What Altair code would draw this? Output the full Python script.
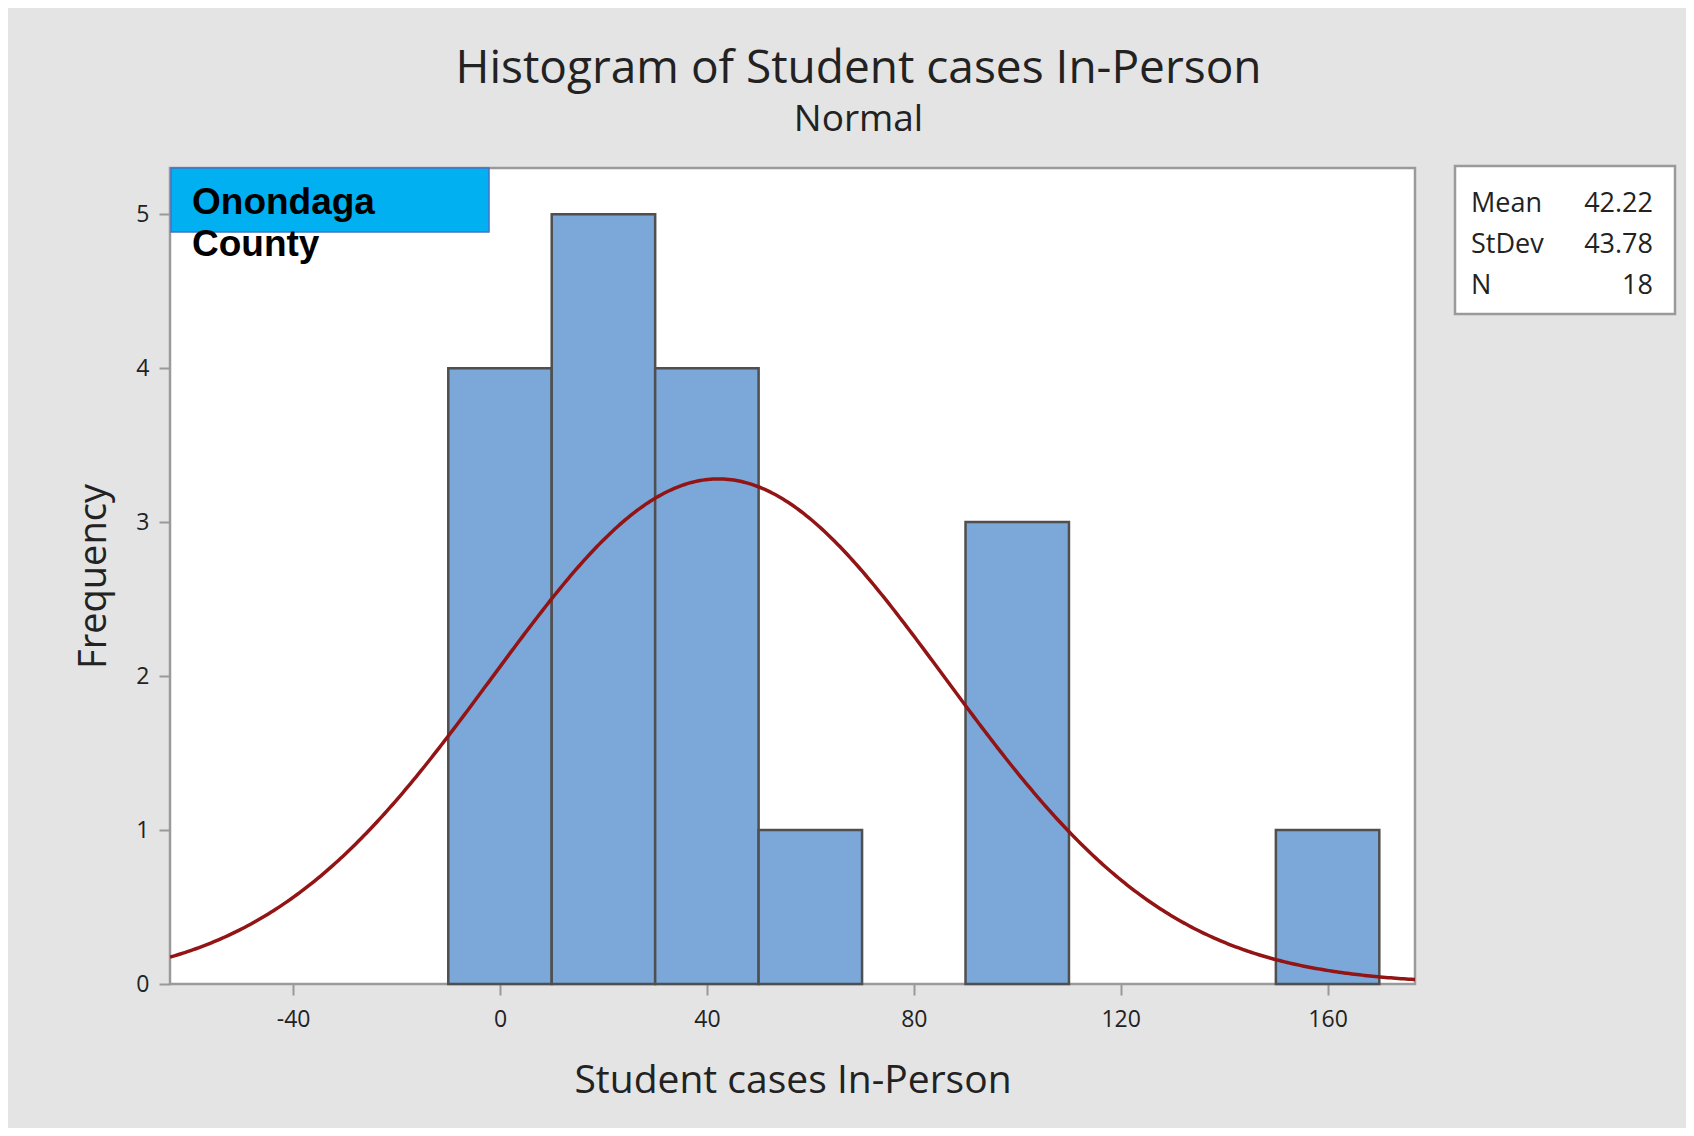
import altair as alt
import pandas as pd

# ---- data ----
bin_start = [-10, 10, 30, 50, 70, 90, 110, 130, 150]
bin_end = [10, 30, 50, 70, 90, 110, 130, 150, 170]
counts = [4, 5, 4, 1, 0, 3, 0, 0, 1]

stat_labels = ["Mean", "StDev", "N"]
stat_values = ["42.22", "43.78", "18"]
mean_val = 42.22
sd_val = 43.78
n_obs = 18
bin_width = 20

x_ticks = [-40, 0, 40, 80, 120, 160]
y_ticks = [0, 1, 2, 3, 4, 5]
x_domain = [-63.8, 176.9]
y_domain = [0, 5.3]

label_lines = ["Onondaga", "County"]

FONT = "Open Sans"
W, H = 1245, 816

bars_df = pd.DataFrame({"start": bin_start, "end": bin_end, "count": counts})

xscale = alt.Scale(domain=x_domain, nice=False, zero=False)
yscale = alt.Scale(domain=y_domain, nice=False, zero=False)

bars = alt.Chart(bars_df).transform_filter("datum.count > 0").mark_rect(
    fill="#7BA7D9", stroke="#4F4F4F", strokeWidth=2.5
).encode(
    x=alt.X("start:Q", scale=xscale,
            axis=alt.Axis(values=x_ticks, title="Student cases In-Person", grid=False,
                          domain=False, tickSize=11, tickWidth=2, tickColor="#999999",
                          labelFontSize=23, labelFont=FONT, labelColor="#222222",
                          labelPadding=13,
                          labelExpr="datum.value < 0 ? '-' + abs(datum.value) : '' + datum.value",
                          titleFont=FONT, titleFontSize=39,
                          titleFontWeight="normal", titleColor="#222222", titlePadding=30)),
    x2="end:Q",
    y=alt.Y("count:Q", scale=yscale,
            axis=alt.Axis(values=y_ticks, format="d", title="Frequency", grid=False,
                          domain=False, tickSize=11, tickWidth=2, tickColor="#999999",
                          labelFontSize=23, labelFont=FONT, labelColor="#222222",
                          labelPadding=10, titleFont=FONT, titleFontSize=38,
                          titleFontWeight="normal", titleColor="#222222", titlePadding=22)),
    y2=alt.datum(0),
)

curve_expr = f"{n_obs}*{bin_width}*densityNormal(datum.x, {mean_val}, {sd_val})"
curve = alt.Chart(alt.sequence(x_domain[0], x_domain[1] + 0.5, 0.5, as_="x")).transform_calculate(
    count=curve_expr
).mark_line(color="#921414", strokeWidth=3.5, clip=True).encode(
    x=alt.X("x:Q", scale=xscale),
    y=alt.Y("count:Q", scale=yscale),
)

one = pd.DataFrame({"a": [0]})

# Onondaga County label box
label_box = alt.Chart(one).mark_rect(
    fill="#00B0F0", stroke="#4472C4", strokeWidth=1.5
).encode(x=alt.value(1), x2=alt.value(319), y=alt.value(0), y2=alt.value(64))

label_layers = [
    alt.Chart(one).mark_text(
        text=t, font="Liberation Sans", fontWeight="bold", fontSize=37, align="left",
        baseline="alphabetic", color="#000000"
    ).encode(x=alt.value(22), y=alt.value(46 + 42 * i))
    for i, t in enumerate(label_lines)
]

# Stats box
stats_box = alt.Chart(one).mark_rect(
    fill="white", stroke="#9A9A9A", strokeWidth=2.5
).encode(x=alt.value(1285), x2=alt.value(1505), y=alt.value(-2), y2=alt.value(146))

stats_layers = []
for i, (lab, val) in enumerate(zip(stat_labels, stat_values)):
    yy = 44 + 41 * i
    stats_layers.append(alt.Chart(one).mark_text(
        text=lab, font=FONT, fontSize=27, align="left", baseline="alphabetic", color="#222222"
    ).encode(x=alt.value(1301), y=alt.value(yy)))
    stats_layers.append(alt.Chart(one).mark_text(
        text=val, font=FONT, fontSize=27, align="right", baseline="alphabetic", color="#222222"
    ).encode(x=alt.value(1483), y=alt.value(yy)))

chart = alt.layer(
    bars, curve, label_box, *label_layers, stats_box, *stats_layers
).properties(
    width=W, height=H,
    autosize=alt.AutoSizeParams(type="none"),
    padding={"left": 162, "top": 160, "right": 271, "bottom": 144},
    background="#E4E4E4",
    title=alt.TitleParams(
        text="Histogram of Student cases In-Person",
        subtitle="Normal",
        anchor="middle", frame="group", dx=66, offset=26,
        font=FONT, fontSize=46, fontWeight="normal", color="#222222",
        subtitleFont=FONT, subtitleFontSize=37, subtitleColor="#222222",
        subtitlePadding=9,
    ),
).configure_view(fill="white", stroke="#9A9A9A", strokeWidth=2.5)

chart.save("out.html", embed_options={"renderer": "svg", "actions": False})
